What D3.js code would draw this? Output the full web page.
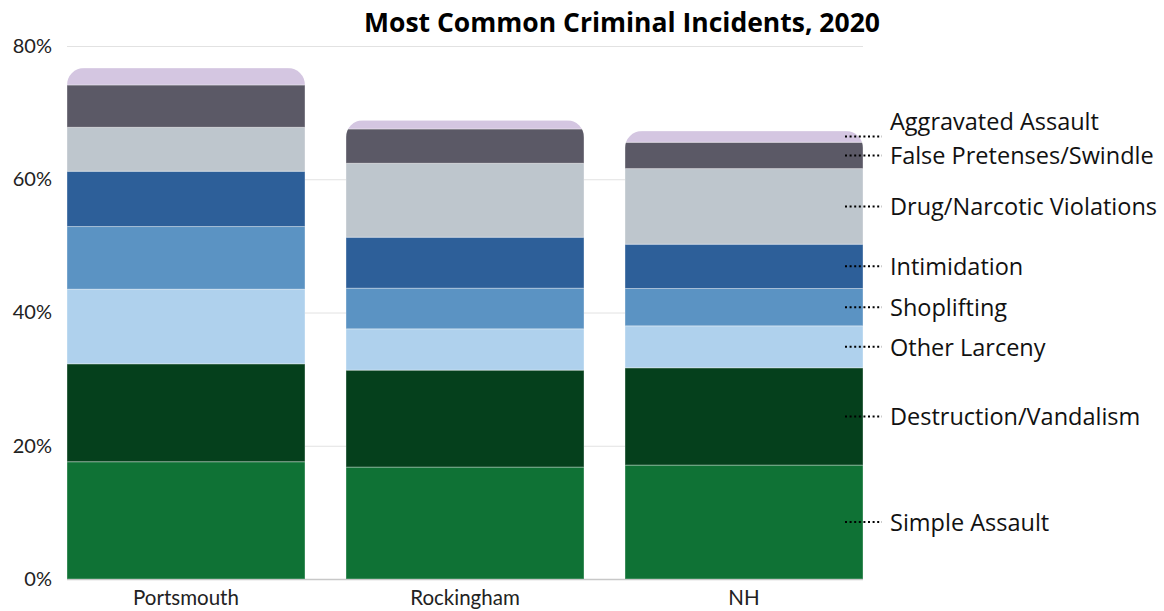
<!DOCTYPE html>
<html><head><meta charset="utf-8">
<script src="https://cdn.jsdelivr.net/npm/d3@7"></script>
<style>body{margin:0;background:#fff}</style></head>
<body><svg id="chart" width="1164" height="611"></svg>
<script>
const regions = ["Portsmouth", "Rockingham", "NH"];
const crimeTypes = ["Simple Assault", "Destruction/Vandalism", "Other Larceny", "Shoplifting", "Intimidation", "Drug/Narcotic Violations", "False Pretenses/Swindle", "Aggravated Assault"];
const simpleAssault = [17.6, 16.8, 17.1];
const destructionVandalism = [14.7, 14.55, 14.6];
const otherLarceny = [11.2, 6.2, 6.3];
const shoplifting = [9.4, 6.1, 5.6];
const intimidation = [8.3, 7.65, 6.65];
const drugNarcotic = [6.6, 11.1, 11.35];
const falsePretenses = [6.35, 5.15, 3.95];
const aggravatedAssault = [2.55, 1.3, 1.7];
const yTicks = [0, 20, 40, 60, 80];
const colors = ["#0f7235", "#05401c", "#afd1ed", "#5b93c3", "#2d5f99", "#bec6cd", "#5b5966", "#d4c6e1"];

const series = [simpleAssault, destructionVandalism, otherLarceny, shoplifting, intimidation, drugNarcotic, falsePretenses, aggravatedAssault];
const table = regions.map((r, i) => {
  const row = {region: r};
  crimeTypes.forEach((c, j) => row[c] = series[j][i]);
  return row;
});

const svg = d3.select("#chart");
const x = d3.scaleBand().domain(regions).range([67, 863]).paddingInner(0.147).paddingOuter(0);
const y = d3.scaleLinear().domain([0, 80]).range([579, 46]);
const color = d3.scaleOrdinal().domain(crimeTypes).range(colors);

// gridlines + y labels
const yAxis = svg.append("g").attr("transform", "translate(67,0)")
  .call(d3.axisLeft(y).tickValues(yTicks).tickSize(-(863 - 67)).tickPadding(15).tickFormat(d => d + "%"));
yAxis.select(".domain").remove();
yAxis.selectAll(".tick line").attr("stroke", d => d === 0 ? "#c8c8c8" : "#e2e2e2").attr("stroke-width", d => d === 0 ? 1.5 : 1);
yAxis.selectAll(".tick text").attr("font-family", "Lato, 'Noto Sans', sans-serif").attr("font-size", 20).attr("fill", "#222");

const stacked = d3.stack().keys(crimeTypes)(table);
const R = 17;
const defs = svg.append("defs");
regions.forEach((r, i) => {
  const x0 = x(r), w = x.bandwidth();
  const top = y(d3.sum(series, s => s[i])), bot = y(0);
  const p = d3.path();
  p.moveTo(x0, bot);
  p.lineTo(x0, top + R);
  p.arcTo(x0, top, x0 + R, top, R);
  p.lineTo(x0 + w - R, top);
  p.arcTo(x0 + w, top, x0 + w, top + R, R);
  p.lineTo(x0 + w, bot);
  p.closePath();
  defs.append("clipPath").attr("id", "clip" + i).append("path").attr("d", p.toString());
});

const barsG = svg.append("g");
regions.forEach((r, i) => {
  const g = barsG.append("g").attr("clip-path", `url(#clip${i})`);
  g.selectAll("rect").data(stacked.map(s => ({key: s.key, v: s[i]}))).join("rect")
    .attr("x", x(r)).attr("width", x.bandwidth())
    .attr("y", d => y(d.v[1])).attr("height", d => y(d.v[0]) - y(d.v[1]))
    .attr("fill", d => color(d.key))
    .attr("stroke", "rgba(255,255,255,0.35)").attr("stroke-width", 1);
});

// x labels
svg.append("g").selectAll("text").data(regions).join("text")
  .attr("x", d => x(d) + x.bandwidth() / 2).attr("y", 597)
  .attr("text-anchor", "middle").attr("dominant-baseline", "central")
  .attr("font-family", "Lato, 'Noto Sans', sans-serif").attr("font-size", 20.5).attr("fill", "#222")
  .text(d => d);

// labels at NH segment midpoints, pushed apart when too close
const last = regions.length - 1;
const items = stacked.map(s => ({key: s.key, ly: y((s[last][0] + s[last][1]) / 2)}));
items.forEach(d => d.ty = d.ly);
for (let k = 1; k < items.length; k++) {
  if (items[k - 1].ty - items[k].ty < 34) items[k].ty = items[k - 1].ty - 34;
}
const xe = x(regions[last]) + x.bandwidth();
const lab = svg.append("g");
items.forEach(d => {
  lab.append("line").attr("x1", xe - 18).attr("x2", xe + 19).attr("y1", d.ly).attr("y2", d.ly)
    .attr("stroke", "#000").attr("stroke-width", 2).attr("stroke-dasharray", "2,2.6");
  lab.append("text").attr("x", xe + 27).attr("y", d.ty).attr("dominant-baseline", "central")
    .attr("font-family", "'Open Sans', sans-serif").attr("font-size", 23.5).attr("fill", "#111")
    .text(d.key);
});

svg.append("text").attr("x", 622).attr("y", 22).attr("text-anchor", "middle").attr("dominant-baseline", "central")
  .attr("font-family", "'Open Sans', sans-serif").attr("font-weight", 700).attr("font-size", 26.5).attr("fill", "#000")
  .text("Most Common Criminal Incidents, 2020");
</script></body></html>
